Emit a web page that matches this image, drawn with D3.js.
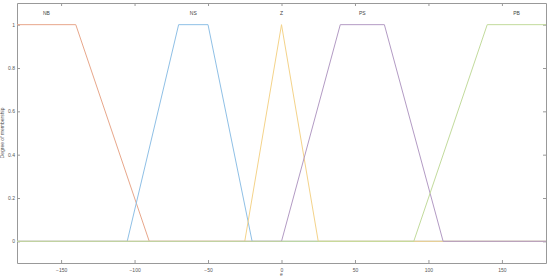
<!DOCTYPE html>
<html>
<head>
<meta charset="utf-8">
<script src="https://cdn.jsdelivr.net/npm/d3@7"></script>
<style>
  body { margin: 0; background: #fff; }
  text { font-family: "Liberation Sans", Arial, sans-serif; }
  .axis path, .axis line { stroke: #999; }
  .axis text { fill: #555; font-size: 5px; }
</style>
</head>
<body>
<div id="chart"></div>
<script>
// membership functions (x breakpoints, y values)
const mfNames = ["NB", "NS", "Z", "PS", "PB"];
const mfX = [
  [-180, -140, -90, 180],
  [-180, -105, -70, -50, -20, 180],
  [-180, -25, 0, 25, 180],
  [-180, 0, 40, 70, 110, 180],
  [-180, 90, 140, 180]
];
const mfY = [
  [1, 1, 0, 0],
  [0, 0, 1, 1, 0, 0],
  [0, 0, 1, 0, 0],
  [0, 0, 1, 1, 0, 0],
  [0, 0, 1, 1]
];
const labelX = [-160, -60, 0, 55, 160];
const colors = ["#e8a78b", "#8fc0e6", "#f4d38a", "#b39bc4", "#c2db9c"];
const xTicks = [-150, -100, -50, 0, 50, 100, 150];
const yTicks = [0, 0.2, 0.4, 0.6, 0.8, 1];

const W = 550, H = 280;
const margin = { top: 3, right: 4, bottom: 17, left: 17 },
  width = W - margin.left - margin.right,
  height = H - margin.top - margin.bottom;

const x = d3.scaleLinear().domain([-180, 180]).range([0, width]);
const y = d3.scaleLinear().domain([-0.1, 1.1]).range([height, 0]);

const svg = d3.select("#chart").append("svg")
  .attr("width", W)
  .attr("height", H)
  .append("g")
  .attr("transform", "translate(" + margin.left + "," + margin.top + ")");

// axes with inward ticks (box style)
svg.append("g").attr("class", "axis")
  .attr("transform", "translate(0," + height + ")")
  .call(d3.axisBottom(x).tickValues(xTicks).tickSizeInner(-3).tickSizeOuter(0).tickPadding(5));
svg.append("g").attr("class", "axis")
  .call(d3.axisTop(x).tickValues(xTicks).tickSizeInner(-3).tickSizeOuter(0).tickFormat(""));
svg.append("g").attr("class", "axis")
  .call(d3.axisLeft(y).tickValues(yTicks).tickSizeInner(-3).tickSizeOuter(0).tickPadding(2)
    .tickFormat(d => d === 0 || d === 1 ? d : d3.format(".1f")(d)));
svg.append("g").attr("class", "axis")
  .attr("transform", "translate(" + width + ",0)")
  .call(d3.axisRight(y).tickValues(yTicks).tickSizeInner(-3).tickSizeOuter(0).tickFormat(""));

// axis labels
svg.append("text")
  .attr("x", x(0)).attr("y", height + 13)
  .attr("text-anchor", "middle")
  .attr("font-size", 5).attr("fill", "#555")
  .text("e");
svg.append("text")
  .attr("transform", "translate(" + (-13) + "," + y(0.5) + ") rotate(-90)")
  .attr("text-anchor", "middle")
  .attr("font-size", 5).attr("fill", "#555")
  .text("Degree of membership");

// define the line
const line = d3.line()
  .x(d => x(d[0]))
  .y(d => y(d[1]));

mfNames.forEach((name, i) => {
  const pts = mfX[i].map((v, j) => [v, mfY[i][j]]);
  svg.append("path")
    .datum(pts)
    .attr("fill", "none")
    .attr("stroke", colors[i])
    .attr("stroke-width", 1)
    .attr("d", line);
  svg.append("text")
    .attr("x", x(labelX[i])).attr("y", y(1.05))
    .attr("text-anchor", "middle")
    .attr("dominant-baseline", "middle")
    .attr("font-size", 5).attr("fill", "#444")
    .text(name);
});
</script>
</body>
</html>
